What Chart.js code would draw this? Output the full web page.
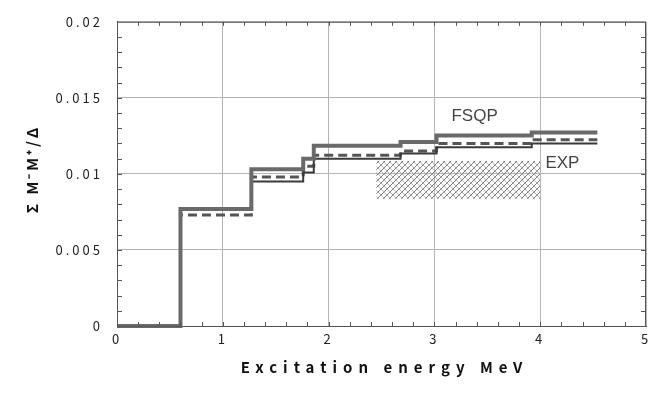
<!DOCTYPE html>
<html>
<head>
<meta charset="utf-8">
<script src="https://cdn.jsdelivr.net/npm/chart.js@4.4.0/dist/chart.umd.min.js"></script>
<style>
  html, body { margin: 0; padding: 0; background: #fff; }
  #wrap { width: 665px; height: 393px; }
</style>
</head>
<body>
<div id="wrap"><canvas id="chart" width="665" height="393"></canvas></div>
<script>
// шаги по энергии (MeV) и значения трёх расчётов
const energies  = [0, 0.6, 1.27, 1.76, 1.86, 2.68, 3.02, 3.92, 4.54];
const fsqpThick = [0, 0.0077, 0.0103, 0.0110, 0.01185, 0.0121, 0.01253, 0.01272, 0.01272];
const fsqpThin  = [0, 0.0077, 0.0095, 0.0101, 0.0110, 0.01134, 0.01175, 0.0120, 0.0120];
const fsqpDash  = [0, 0.0073, 0.0098, 0.0105, 0.01123, 0.0115, 0.0120, 0.01225, 0.01225];

// экспериментальная полоса
const expEnergy = [2.45, 4.0];
const expHigh   = [0.01085, 0.01085];
const expLow    = [0.00836, 0.00836];

// подписи на графике
const noteTexts = ['FSQP', 'EXP'];
const noteX     = [3.38, 4.21];
const noteY     = [0.0138, 0.0107];

const xTitle = 'Excitation energy MeV';
const yTitle = 'Σ M⁻M⁺/Δ';

const toPoints = (xs, ys) => xs.map((x, i) => ({ x: x, y: ys[i] }));

// штриховка для EXP
function makeHatch() {
    const c = document.createElement('canvas');
    c.width = 6; c.height = 6;
    const g = c.getContext('2d');
    g.lineWidth = 1;
    g.strokeStyle = '#b8b8b8';
    g.beginPath();
    g.moveTo(0, 0); g.lineTo(6, 6);
    g.stroke();
    g.strokeStyle = '#7c7c7c';
    g.beginPath();
    g.moveTo(0, 6); g.lineTo(6, 0);
    g.stroke();
    return g.createPattern(c, 'repeat');
}

const tickFont = { family: '"Noto Sans CJK JP"', size: 13 };

const decor = {
    id: 'decor',
    beforeDraw(chart) {
        chart.ctx.letterSpacing = '3px';
    },
    afterDraw(chart) {
        const { ctx, chartArea: a, scales: { x, y } } = chart;
        ctx.save();
        ctx.letterSpacing = '0px';
        ctx.strokeStyle = '#555';
        ctx.lineWidth = 1;
        ctx.strokeRect(a.left + 0.5, a.top + 0.5, a.right - a.left - 1, a.bottom - a.top);

        // мелкие засечки внутрь
        ctx.beginPath();
        for (let v = 0.2; v < 5; v += 0.2) {
            const px = Math.round(x.getPixelForValue(v)) + 0.5;
            ctx.moveTo(px, a.bottom); ctx.lineTo(px, a.bottom - 4);
            ctx.moveTo(px, a.top); ctx.lineTo(px, a.top + 4);
        }
        for (let v = 0.001; v < 0.02; v += 0.001) {
            const py = Math.round(y.getPixelForValue(v)) + 0.5;
            ctx.moveTo(a.left, py); ctx.lineTo(a.left + 5, py);
            ctx.moveTo(a.right, py); ctx.lineTo(a.right - 5, py);
        }
        ctx.stroke();

        // подписи FSQP / EXP
        ctx.font = '17px "Liberation Sans", Arial, sans-serif';
        ctx.fillStyle = '#444';
        ctx.textAlign = 'center';
        ctx.textBaseline = 'middle';
        noteTexts.forEach((t, i) => {
            ctx.fillText(t, x.getPixelForValue(noteX[i]), y.getPixelForValue(noteY[i]));
        });

        // заголовки осей
        ctx.fillStyle = '#111';
        ctx.font = 'bold 15px "Noto Sans CJK JP"';
        ctx.letterSpacing = '6px';
        ctx.fillText(xTitle, (a.left + a.right) / 2 + 3, a.bottom + 41);
        ctx.translate(32, (a.top + a.bottom) / 2 - 5);
        ctx.rotate(-Math.PI / 2);
        ctx.letterSpacing = '3px';
        ctx.fillText(yTitle, 0, 0);
        ctx.restore();
    }
};

const stepLine = (data, color, width, dash) => ({
    data: toPoints(energies, data),
    stepped: 'before',
    borderColor: color,
    borderWidth: width,
    borderDash: dash || [],
    pointRadius: 0,
    fill: false,
    clip: 8
});

new Chart(document.getElementById('chart').getContext('2d'), {
    type: 'line',
    data: {
        datasets: [
            {
                data: toPoints(expEnergy, expHigh),
                borderWidth: 0,
                pointRadius: 0,
                backgroundColor: makeHatch(),
                fill: '+1'
            },
            {
                data: toPoints(expEnergy, expLow),
                borderWidth: 0,
                pointRadius: 0,
                fill: false
            },
            stepLine(fsqpThick, '#6a6a6a', 4),
            stepLine(fsqpThin, '#3a3a3a', 2),
            stepLine(fsqpDash, '#555555', 3, [9, 5])
        ]
    },
    options: {
        responsive: false,
        animation: false,
        layout: { padding: { top: 17, right: 19, left: 0, bottom: 0 } },
        plugins: { legend: { display: false }, tooltip: { enabled: false } },
        scales: {
            x: {
                type: 'linear',
                min: 0, max: 5,
                afterFit: s => { s.height = 67; },
                ticks: { stepSize: 1, padding: 5, color: '#222', font: tickFont },
                grid: { color: '#b4b4b4', drawTicks: false },
                border: { color: '#555' }
            },
            y: {
                min: 0, max: 0.02,
                afterFit: s => { s.width = 117; },
                ticks: {
                    stepSize: 0.005, padding: 14, color: '#222', font: tickFont,
                    callback: v => String(+v.toFixed(3))
                },
                grid: { color: '#b4b4b4', drawTicks: false },
                border: { color: '#555' }
            }
        }
    },
    plugins: [decor]
});
</script>
</body>
</html>
